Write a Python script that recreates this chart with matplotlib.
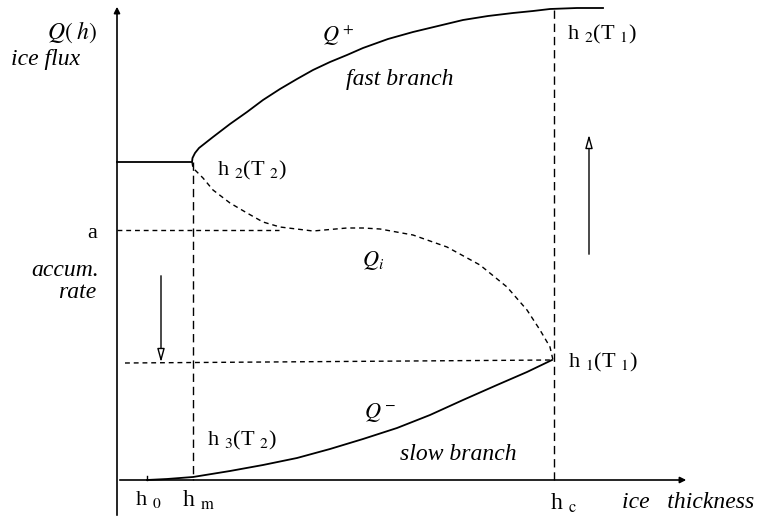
import matplotlib
matplotlib.use("Agg")
import matplotlib.pyplot as plt

plt.rcParams['font.family'] = ['Liberation Serif', 'DejaVu Serif']
plt.rcParams['mathtext.fontset'] = 'stix'

# key thicknesses / flux levels (schematic units)
h0 = 0.30
hm = 0.76
hc = 4.37
a_rate = 2.50
Q_T2 = 3.18
Q_T1 = 1.20

# fast branch Q+ (flat part then rising)
hplus = [0.0, 0.75, 0.755, 0.78, 0.82, 0.96, 1.13, 1.30, 1.46, 1.63, 1.80, 1.96, 2.13, 2.30, 2.46,
         2.71, 2.96, 3.21, 3.46, 3.71, 3.96, 4.16, 4.33, 4.60, 4.86]
Qplus = [3.18, 3.18, 3.22, 3.27, 3.32, 3.43, 3.56, 3.68, 3.80, 3.91, 4.01, 4.10, 4.18, 4.25, 4.32,
         4.41, 4.48, 4.54, 4.60, 4.64, 4.67, 4.69, 4.71, 4.72, 4.72]

# unstable branch Qi (dashed)
hi = [0.75, 0.76, 0.86, 0.96, 1.13, 1.30, 1.46, 1.63, 1.96, 2.30, 2.46, 2.63, 2.96, 3.30,
      3.63, 3.90, 4.10, 4.23, 4.33, 4.36]
Qi = [3.18, 3.12, 3.02, 2.90, 2.77, 2.67, 2.58, 2.53, 2.49, 2.52, 2.52, 2.51, 2.45, 2.33,
      2.15, 1.93, 1.70, 1.50, 1.33, 1.20]

# slow branch Q-
hminus = [0.30, 0.50, 0.76, 1.13, 1.46, 1.80, 2.13, 2.46, 2.80, 3.13, 3.46, 3.80, 4.10, 4.35]
Qminus = [0.0, 0.01, 0.03, 0.09, 0.15, 0.22, 0.31, 0.41, 0.52, 0.65, 0.80, 0.95, 1.08, 1.20]

fig = plt.figure(figsize=(7.6, 5.22), dpi=100)
ax = fig.add_axes([0, 0, 1, 1])
ax.set_xlim(-1.17, 6.43)
ax.set_ylim(-0.42, 4.80)
ax.axis('off')

lw = 1.3
# axes with arrows
ax.annotate('', xy=(0, 4.76), xytext=(0, -0.38),
            arrowprops=dict(arrowstyle='-|>', lw=1.2, color='k', mutation_scale=9))
ax.annotate('', xy=(5.72, 0), xytext=(0, 0),
            arrowprops=dict(arrowstyle='-|>', lw=1.2, color='k', mutation_scale=9))
ax.plot([h0, h0], [0, 0.04], color='k', lw=1.0)

# curves
ax.plot(hplus, Qplus, color='k', lw=lw, solid_joinstyle='round')
ax.plot(hi, Qi, color='k', lw=1.0, dashes=(3.5, 2.8))
ax.plot(hminus, Qminus, color='k', lw=lw, solid_joinstyle='round')

# guide lines
ax.plot([0, 1.62], [a_rate, a_rate], color='k', lw=1.0, dashes=(3.5, 2.8))
ax.plot([0.08, hc - 0.02], [Q_T1 - 0.03, Q_T1], color='k', lw=1.0, dashes=(3.5, 2.8))
ax.plot([hm, hm], [Q_T2, 0], color='k', lw=1.0, dashes=(6, 3.5))
ax.plot([hc, hc], [4.70, 0], color='k', lw=1.0, dashes=(6, 3.5))

# direction arrows
ax.annotate('', xy=(0.44, 1.15), xytext=(0.44, 2.07),
            arrowprops=dict(arrowstyle='-|>,head_length=0.8,head_width=0.22',
                            lw=1.0, color='k', fc='white'))
ax.annotate('', xy=(4.72, 3.48), xytext=(4.72, 2.23),
            arrowprops=dict(arrowstyle='-|>,head_length=0.8,head_width=0.22',
                            lw=1.0, color='k', fc='white'))

fs = 16
fi = 17
# y-axis labels
ax.text(-0.20, 4.48, r'$Q(\;h)$', fontsize=17, ha='right', va='center')
ax.text(-0.71, 4.20, 'ice flux', fontsize=fi, style='italic', ha='center', va='center')
ax.text(-0.25, 2.46, 'a', fontsize=fs, ha='center', va='center')
ax.text(-0.18, 2.10, 'accum.', fontsize=fi, style='italic', ha='right', va='center')
ax.text(-0.21, 1.88, 'rate', fontsize=fi, style='italic', ha='right', va='center')

# curve labels
ax.text(2.21, 4.44, r'$Q^+$', fontsize=fs, ha='center', va='center')
ax.text(2.83, 4.00, 'fast branch', fontsize=fi, style='italic', ha='center', va='center')
ax.text(1.00, 3.10, r'h $_2$(T $_2$)', fontsize=fs, ha='left', va='center')
ax.text(2.56, 2.20, r'$Q_i$', fontsize=fs, ha='center', va='center')
ax.text(4.50, 4.46, r'h $_2$(T $_1$)', fontsize=fs, ha='left', va='center')
ax.text(4.51, 1.18, r'h $_1$(T $_1$)', fontsize=fs, ha='left', va='center')
ax.text(2.63, 0.68, r'$Q^-$', fontsize=fs, ha='center', va='center')
ax.text(0.90, 0.40, r'h $_3$(T $_2$)', fontsize=fs, ha='left', va='center')
ax.text(3.41, 0.25, 'slow branch', fontsize=fi, style='italic', ha='center', va='center')

# x-axis labels
ax.text(0.18, -0.19, r'h $_0$', fontsize=fs, ha='left', va='center')
ax.text(0.65, -0.20, r'h $_{\rm m}$', fontsize=17, ha='left', va='center')
ax.text(4.33, -0.23, r'h $_{\rm c}$', fontsize=17, ha='left', va='center')
ax.text(5.05, -0.23, 'ice   thickness', fontsize=fi, style='italic', ha='left', va='center')

fig.savefig('out.png', dpi=100)
